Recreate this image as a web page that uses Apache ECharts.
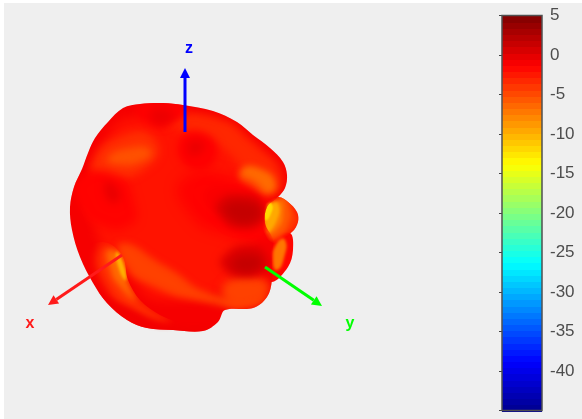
<!DOCTYPE html>
<html>
<head>
<meta charset="utf-8">
<style>html,body{margin:0;padding:0;background:#efefef}#chart{width:582px;height:419px;box-shadow:inset 4px 3px 0 #fff}</style>
<script src="https://cdn.jsdelivr.net/npm/echarts@6/dist/echarts.min.js"></script>
</head>
<body>
<div id="chart"></div>
<script>
// outlines of the surface as seen on screen, in scene units
const lobeUpper = [[262,207],[278,197],[288,202],[297,212],[298,222],[292,232],[273,243],[262,227]];
const lobeLower = [[268,240],[290,233],[293,250],[288,267],[272,282],[260,270]];
const body = [[140,104],[163,103],[183,105],[213,111],[237,122],[253,135],[270,148],[283,162],[287,175],[285,188],[278,197],[267,207],[265,223],[273,240],[272,257],[272,280],[267,297],[253,308],[225,310],[218,322],[203,331],[173,330],[147,328],[127,320],[107,303],[93,283],[80,257],[72,230],[70,207],[74,187],[82,169],[88,153],[95,138],[108,122],[123,108]];
const crescent = [[108,243],[123,257],[128,280],[140,300],[160,315],[187,327],[173,332],[147,330],[127,322],[105,304],[90,284],[78,258],[90,245]];

// gain of each painted region (dB), back to front
const outlineGain = [-2.5, -1.5, -0.8];
const outlines = [lobeUpper, lobeLower, body, crescent];

const patchGain = [-4, -5.5, -7.5, -9.5, -12, -7, -2.2, -3.2, -3.6, -5.2, -6.5, -4.4, -4.4, -1.2, -0.4, -1.2, -0.2, -1.4, -0.2, -1.4, -1, -3.6, -6.5, -10, -0.6];
const patchClip = [0, 0, 0, 0, 0, 1, 2, 2, 2, 2, 2, 2, 2, 2, 2, 2, 2, 2, 2, 2, 2, 3, 3, 3, 2];
const patchBlur = [4, 4, 4, 3, 2, 3, 12, 10, 9, 7, 6, 7, 9, 9, 8, 9, 8, 10, 8, 12, 10, 8, 6, 3, 6];
const patches = [
  [[285,198],[296,214],[296,224],[285,234],[272,240],[278,215]],
  [[283,196],[289,206],[289,222],[278,236],[268,236],[274,215]],
  [[278,200],[283,212],[276,230],[266,232],[266,212]],
  [[270,206],[278,204],[276,222],[266,232]],
  [[266,205],[272,204],[270,216],[265,220]],
  [[277,243],[285,240],[284,258],[277,270],[273,262]],
  [[130,118],[190,115],[240,135],[270,170],[272,195],[255,215],[245,270],[170,300],[125,270],[92,220],[92,170],[105,140]],
  [[165,120],[215,118],[255,145],[282,175],[272,195],[250,180],[225,150]],
  [[92,165],[125,135],[155,140],[150,165],[105,178]],
  [[108,158],[130,148],[150,150],[145,160],[115,164]],
  [[240,172],[258,168],[276,185],[262,195],[246,190]],
  [[122,243],[165,266],[215,295],[262,296],[250,306],[205,302],[150,285],[125,265]],
  [[226,282],[262,278],[268,295],[250,306],[228,304]],
  [[138,106],[165,102],[185,108],[175,122],[145,122]],
  [[152,110],[172,112],[170,122],[155,124]],
  [[180,140],[208,135],[215,160],[190,168]],
  [[190,142],[204,144],[198,154],[190,154]],
  [[78,180],[115,175],[135,205],[130,225],[100,225],[80,205]],
  [[105,182],[115,186],[120,198],[110,202]],
  [[182,180],[235,178],[265,205],[262,240],[225,235],[190,215]],
  [[205,192],[245,190],[262,205],[245,225],[225,220]],
  [[100,246],[122,257],[130,284],[145,304],[170,322],[138,314],[105,285]],
  [[108,250],[122,258],[128,284],[136,300],[118,284],[110,268]],
  [[116,252],[122,260],[126,280],[120,272]],
  [[92,290],[130,322],[170,333],[215,326],[170,325],[125,307]]
];
const darkPatchGain = [0.6, 1.6, 0.4, 1.6];
const darkPatches = [
  [[218,202],[245,195],[263,205],[262,222],[240,228],[222,218]],
  [[226,207],[248,203],[260,212],[250,222],[234,220]],
  [[222,258],[250,245],[268,258],[265,270],[240,277],[225,270]],
  [[232,262],[250,255],[262,262],[252,272],[236,270]]
];

// axis triad
const axisNames = ['x', 'y', 'z'];
const axisStart = [[122,255], [265,267], [185,132]];
const axisEnd = [[48,305], [322,306], [185,68]];
const axisColors = ['#ff1a1a', '#00ff00', '#0000ff'];
const axisLabelAt = [[30,324], [350,324], [189,49]];

// colour bar
const gainMin = -45;
const gainMax = 5;
const levelCount = 64;
const levels = [];
for (let i = 0; i < levelCount; i++) {
  levels.push(gainMin + (i + 0.5) * (gainMax - gainMin) / levelCount);
}
const jet = ['#00008f', '#0000ff', '#0080ff', '#00ffff', '#80ff80', '#ffff00', '#ff8000', '#ff0000', '#800000'];

const chart = echarts.init(document.getElementById('chart'));

function polygonItem(api, pts, color, clipPts, blur) {
  const screen = pts.map(p => api.coord(p));
  if (!blur) {
    return { type: 'polygon', shape: { points: screen, smooth: 0.35 }, style: { fill: color } };
  }
  // only the blurred shadow lands on the canvas, the shape itself sits off to the side
  const shift = 2000;
  return {
    type: 'polygon',
    shape: { points: screen.map(p => [p[0] - shift, p[1]]), smooth: 0.6 },
    style: { fill: color, shadowColor: color, shadowBlur: blur, shadowOffsetX: shift },
    clipPath: { type: 'polygon', shape: { points: clipPts.map(p => api.coord(p)), smooth: 0.35 } }
  };
}

chart.setOption({
  animation: false,
  grid: [
    { left: 0, top: 0, width: 582, height: 419 },
    { left: 502, top: 15.5, width: 40, height: 395, show: true, z: 5, backgroundColor: 'transparent', borderColor: '#505050', borderWidth: 1.5 }
  ],
  xAxis: [
    { type: 'value', min: 0, max: 582, show: false, gridIndex: 0 },
    { type: 'value', min: 0, max: 1, show: false, gridIndex: 1 }
  ],
  yAxis: [
    { type: 'value', min: 0, max: 419, inverse: true, show: false, gridIndex: 0 },
    {
      type: 'value', min: gainMin, max: gainMax, interval: 5, gridIndex: 1, position: 'right',
      splitLine: { show: false },
      axisLine: { show: false },
      axisTick: { show: true, inside: true, length: 3, lineStyle: { color: '#404040' } },
      axisLabel: {
        color: '#4d4d4d', fontFamily: 'Liberation Sans', fontSize: 17, margin: 8,
        showMinLabel: true, showMaxLabel: true,
        formatter: v => (v === gainMin ? '' : String(v))
      }
    }
  ],
  visualMap: {
    show: false, type: 'continuous', min: gainMin, max: gainMax, dimension: 0,
    seriesIndex: [0, 1, 2, 3], inRange: { color: jet }
  },
  series: [
    {
      type: 'custom', xAxisIndex: 0, yAxisIndex: 0, z: 2,
      data: outlines.slice(0, 3).map((_, i) => [outlineGain[i], i]),
      renderItem: (params, api) => polygonItem(api, outlines[api.value(1)], api.visual('color'))
    },
    {
      type: 'custom', xAxisIndex: 0, yAxisIndex: 0, z: 3,
      data: patches.map((_, i) => [patchGain[i], i]),
      renderItem: (params, api) => {
        const i = api.value(1);
        return polygonItem(api, patches[i], api.visual('color'), outlines[patchClip[i]], patchBlur[i]);
      }
    },
    {
      type: 'custom', xAxisIndex: 0, yAxisIndex: 0, z: 4,
      data: darkPatches.map((_, i) => [darkPatchGain[i], i]),
      renderItem: (params, api) => polygonItem(api, darkPatches[api.value(1)], api.visual('color'), body, 9)
    },
    {
      type: 'custom', xAxisIndex: 1, yAxisIndex: 1, z: 2,
      data: levels.map((v, i) => [v, i]),
      renderItem: (params, api) => {
        const half = (gainMax - gainMin) / levelCount / 2;
        const v = api.value(0);
        const a = api.coord([0, v + half]);
        const b = api.coord([1, v - half]);
        const top = Math.round(a[1]);
        return { type: 'rect', shape: { x: a[0], y: top, width: b[0] - a[0], height: Math.round(b[1]) - top + 1 }, style: { fill: api.visual('color') } };
      }
    },
    {
      type: 'custom', xAxisIndex: 0, yAxisIndex: 0, z: 6,
      data: axisNames.map((_, i) => [axisEnd[i][0], axisEnd[i][1], i]),
      renderItem: (params, api) => {
        const i = api.value(2);
        const from = api.coord(axisStart[i]);
        const to = api.coord(axisEnd[i]);
        const at = api.coord(axisLabelAt[i]);
        const ang = Math.atan2(to[1] - from[1], to[0] - from[0]);
        const len = 10, wide = 5;
        const base = [to[0] - len * Math.cos(ang), to[1] - len * Math.sin(ang)];
        const head = [
          to,
          [base[0] - wide * Math.sin(ang), base[1] + wide * Math.cos(ang)],
          [base[0] + wide * Math.sin(ang), base[1] - wide * Math.cos(ang)]
        ];
        return {
          type: 'group',
          children: [
            { type: 'line', shape: { x1: from[0], y1: from[1], x2: base[0], y2: base[1] }, style: { stroke: axisColors[i], lineWidth: 3 } },
            { type: 'polygon', shape: { points: head }, style: { fill: axisColors[i] } },
            { type: 'text', style: { text: axisNames[i], x: at[0], y: at[1], fill: axisColors[i], align: 'center', verticalAlign: 'middle', font: 'bold 16px "Liberation Sans"' } }
          ]
        };
      }
    }
  ]
});
</script>
</body>
</html>
